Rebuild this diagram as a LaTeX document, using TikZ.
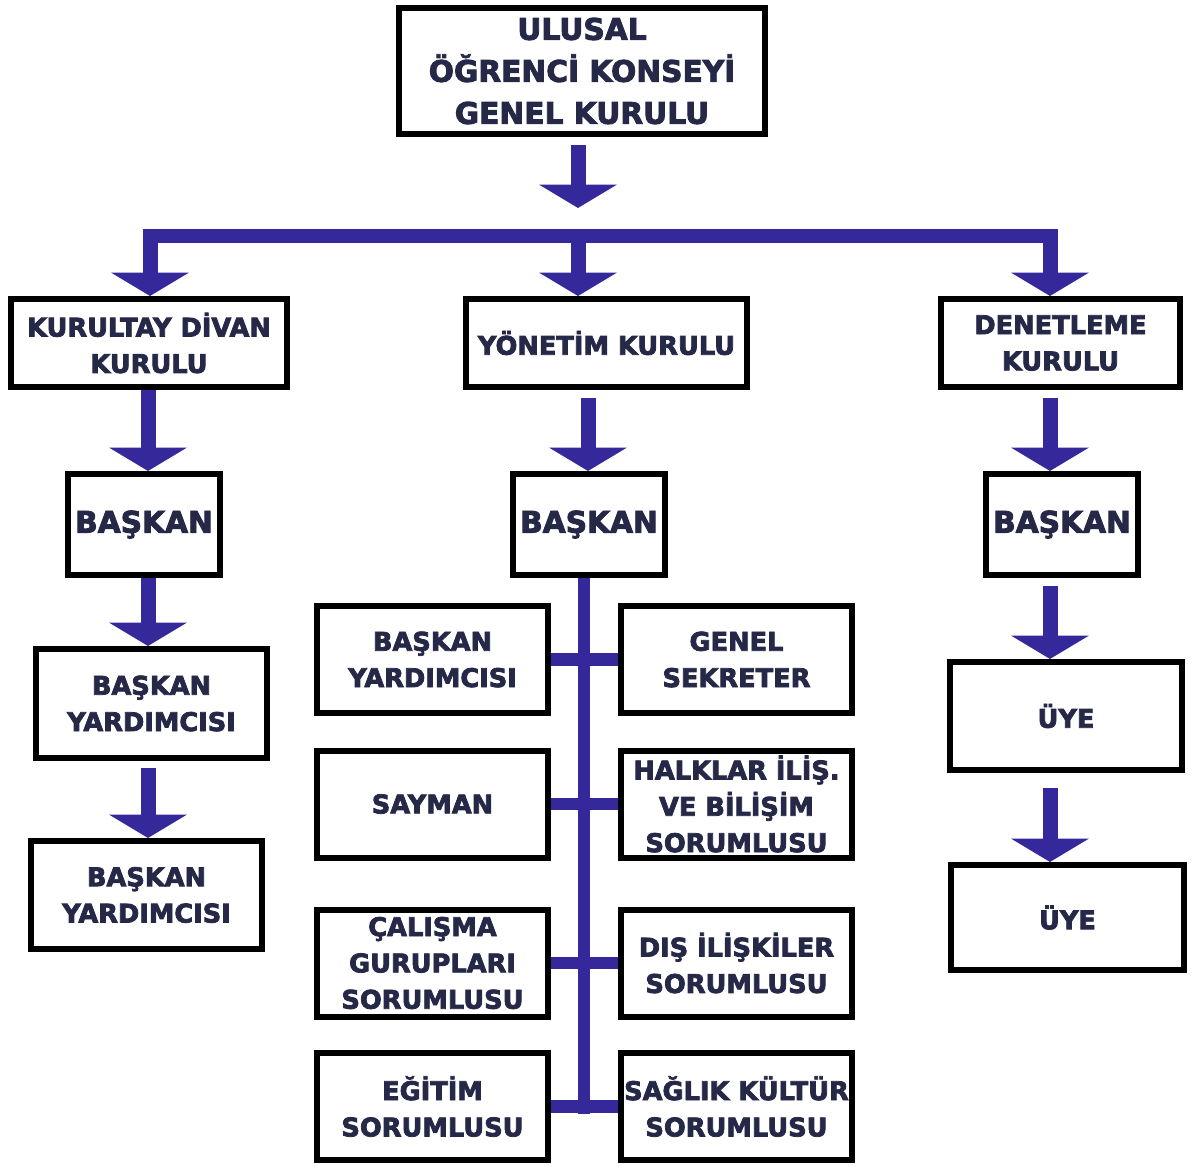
\documentclass[tikz,border=0pt]{standalone}
\usepackage{fontspec}
\newfontfamily\dvs{DejaVu Sans Bold}[FakeBold=3]
\usetikzlibrary{arrows.meta}
\definecolor{navytext}{RGB}{38,40,72}
\definecolor{arrowblue}{RGB}{52,40,154}
\tikzset{
  box/.style={draw=black, line width=3.6pt, fill=white, text=navytext, align=center, inner sep=0pt,
              font={\dvs\fontsize{15.4pt}{21.8pt}\selectfont}},
  bigfont/.style={font={\dvs\fontsize{17.8pt}{25.2pt}\selectfont}},
  arr/.style={draw=arrowblue, line width=9pt, -{Triangle[width=46pt,length=14pt]}, arrowblue},
  tree/.style={draw=arrowblue, line width=7.5pt},
  bar/.style={draw=arrowblue, line width=8.5pt, line join=miter}
}
\begin{document}
\begin{tikzpicture}[x=0.6pt,y=-0.6pt]
\useasboundingbox (0,0) rectangle (1200,1167);
% top
\node[box,bigfont,minimum width=219.6pt,minimum height=75.6pt] (top) at (582,71) {ULUSAL\\ÖĞRENCİ KONSEYİ\\GENEL KURULU};
% second row
\node[box,minimum width=165.6pt,minimum height=52.8pt] (kdk) at (149,343) {KURULTAY DİVAN\\KURULU};
\node[box,minimum width=168.6pt,minimum height=52.8pt] (yk) at (606.5,343) {YÖNETİM KURULU};
\node[box,minimum width=143.4pt,minimum height=52.8pt] (dk) at (1060.5,343) {DENETLEME\\KURULU};
% presidents
\node[box,bigfont,minimum width=91.2pt,minimum height=60.6pt] (b1) at (144,524.5) {BAŞKAN};
\node[box,bigfont,minimum width=91.2pt,minimum height=60.6pt] (b2) at (589,524.5) {BAŞKAN};
\node[box,bigfont,minimum width=91.2pt,minimum height=60.6pt] (b3) at (1062,524.5) {BAŞKAN};
% left column
\node[box,minimum width=138.6pt,minimum height=65.4pt] (ly1) at (151.5,703.5) {BAŞKAN\\YARDIMCISI};
\node[box,minimum width=138.6pt,minimum height=64.8pt] (ly2) at (146.5,895) {BAŞKAN\\YARDIMCISI};
% right column
\node[box,minimum width=139.2pt,minimum height=64.8pt] (u1) at (1066,716) {ÜYE};
\node[box,minimum width=139.8pt,minimum height=63pt] (u2) at (1067.5,917.5) {ÜYE};
% middle tree
\node[box,minimum width=138.6pt,minimum height=64.2pt] (m1l) at (432.5,659.5) {BAŞKAN\\YARDIMCISI};
\node[box,minimum width=138.6pt,minimum height=64.2pt] (m1r) at (736.5,659.5) {GENEL\\SEKRETER};
\node[box,minimum width=138.6pt,minimum height=64.2pt] (m2l) at (432.5,804) {SAYMAN};
\node[box,minimum width=138.6pt,minimum height=64.2pt] (m2r) at (736.5,804) {HALKLAR İLİŞ.\\VE BİLİŞİM\\SORUMLUSU};
\node[box,minimum width=138.6pt,minimum height=64.2pt] (m3l) at (432.5,963) {ÇALIŞMA\\GURUPLARI\\SORUMLUSU};
\node[box,minimum width=138.6pt,minimum height=64.2pt] (m3r) at (736.5,963) {DIŞ İLİŞKİLER\\SORUMLUSU};
\node[box,minimum width=138.6pt,minimum height=64.2pt] (m4l) at (432.5,1106.5) {EĞİTİM\\SORUMLUSU};
\node[box,minimum width=138.6pt,minimum height=64.2pt] (m4r) at (736.5,1106.5) {SAĞLIK KÜLTÜR\\SORUMLUSU};
% coordinates
\coordinate (tt) at (578,208);
\coordinate (bl) at (150,236);
\coordinate (bm) at (578,236);
\coordinate (br) at (1050,236);
\coordinate (cl) at (148,0);
\coordinate (cm) at (588,0);
\coordinate (cr) at (1050,0);
\coordinate (tb) at (584,1114);
% connectors
\draw[arr,shorten <=4.8pt] (top.south -| tt) -- (tt);
\draw[bar] (bl) -- (br);
\draw[arr] ([yshift=4.2pt]bl) -- (bl |- kdk.north);
\draw[arr] (bm) -- (bm |- yk.north);
\draw[arr] ([yshift=4.2pt]br) -- (br |- dk.north);
\draw[arr] (kdk.south -| cl) -- (b1.north -| cl);
\draw[arr] (b1.south -| cl) -- (ly1.north -| cl);
\draw[arr,shorten <=4pt] (ly1.south -| cl) -- (ly2.north -| cl);
\draw[arr,shorten <=4.5pt] (yk.south -| cm) -- (b2.north -| cm);
\draw[arr,shorten <=4.5pt] (dk.south -| cr) -- (b3.north -| cr);
\draw[arr,shorten <=4.5pt] (b3.south -| cr) -- (u1.north -| cr);
\draw[arr,shorten <=9pt] (u1.south -| cr) -- (u2.north -| cr);
\draw[tree] (b2.south -| tb) -- (tb);
\draw[tree] (m1l.east) -- (m1r.west);
\draw[tree] (m2l.east) -- (m2r.west);
\draw[tree] (m3l.east) -- (m3r.west);
\draw[tree] (m4l.east) -- (m4r.west);
\end{tikzpicture}
\end{document}
